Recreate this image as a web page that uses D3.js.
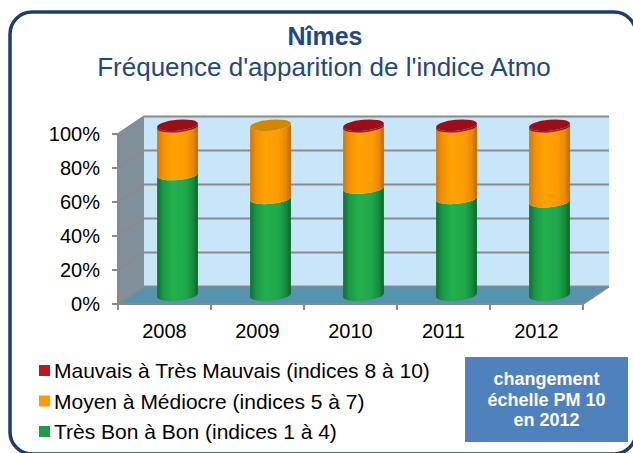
<!DOCTYPE html>
<html>
<head>
<meta charset="utf-8">
<script src="https://cdn.jsdelivr.net/npm/d3@7"></script>
<style>
  body { margin: 0; background: #fff; }
  svg { display: block; font-family: "Liberation Sans", Arial, sans-serif; }
</style>
</head>
<body>
<script>
// Nîmes - fréquence d'apparition de l'indice Atmo (en %)
const years = ["2008", "2009", "2010", "2011", "2012"];
const tresBon = [71, 57, 63, 57, 55];   // indices 1 à 4
const moyen = [28, 43, 36, 42, 44];     // indices 5 à 7
const mauvais = [1, 0, 1, 1, 1];        // indices 8 à 10
const yTicks = [0, 20, 40, 60, 80, 100];
const seriesNames = ["Très Bon à Bon (indices 1 à 4)", "Moyen à Médiocre (indices 5 à 7)", "Mauvais à Très Mauvais (indices 8 à 10)"];

const w = 633, h = 453;
const depthX = 26, depthY = -17.5;   // décalage 3D

const svg = d3.select("body").append("svg")
    .attr("width", w)
    .attr("height", h);

// cadre arrondi
svg.append("rect")
    .attr("x", 10).attr("y", 12)
    .attr("width", 626).attr("height", 442)
    .attr("rx", 22)
    .attr("fill", "#fff")
    .attr("stroke", "#1f3d66")
    .attr("stroke-width", 3.5);

// titres
svg.append("text")
    .attr("x", 325).attr("y", 45)
    .attr("text-anchor", "middle")
    .attr("font-size", "25px")
    .attr("font-weight", "bold")
    .attr("fill", "#1f497d")
    .text("Nîmes");
svg.append("text")
    .attr("x", 324).attr("y", 76)
    .attr("text-anchor", "middle")
    .attr("font-size", "26px")
    .attr("fill", "#1f497d")
    .text("Fréquence d'apparition de l'indice Atmo");

const x = d3.scaleBand().domain(years).range([118, 583]);
const y = d3.scaleLinear().domain([0, 100]).range([304, 134]);

const x0 = x.range()[0], x1 = x.range()[1];

// murs
svg.append("polygon")  // mur du fond
    .attr("points", [[x0 + depthX, y(100) + depthY], [x1 + depthX, y(100) + depthY],
                     [x1 + depthX, y(0) + depthY], [x0 + depthX, y(0) + depthY]].join(" "))
    .attr("fill", "#c8e6f9");
svg.append("polygon")  // mur de gauche
    .attr("points", [[x0, y(100)], [x0 + depthX, y(100) + depthY],
                     [x0 + depthX, y(0) + depthY], [x0, y(0)]].join(" "))
    .attr("fill", "#7f909b");
svg.append("polygon")  // sol
    .attr("points", [[x0, y(0)], [x0 + depthX, y(0) + depthY],
                     [x1 + depthX, y(0) + depthY], [x1, y(0)]].join(" "))
    .attr("fill", "#5593ae");

// quadrillage
const grid = svg.append("g").attr("stroke", "#8a8a8a").attr("stroke-width", 2).attr("fill", "none");
grid.selectAll("path")
    .data(yTicks)
    .enter()
    .append("path")
    .attr("d", function (d) {
        return "M" + x0 + "," + y(d) + "L" + (x0 + depthX) + "," + (y(d) + depthY) +
               "L" + (x1 + depthX) + "," + (y(d) + depthY);
    });
grid.append("path")
    .attr("d", "M" + x1 + "," + y(0) + "L" + (x1 + depthX) + "," + (y(0) + depthY));

// axes
const axes = svg.append("g").attr("stroke", "#8a8a8a").attr("stroke-width", 2).attr("fill", "none");
axes.append("path").attr("d", "M" + x0 + "," + y(100) + "V" + y(0) + "H" + x1);
axes.selectAll(".yt")
    .data(yTicks)
    .enter()
    .append("path")
    .attr("d", function (d) { return "M" + (x0 - 6) + "," + y(d) + "H" + x0; });
axes.selectAll(".xt")
    .data(years.map(function (d) { return x(d); }).concat([x1]))
    .enter()
    .append("path")
    .attr("d", function (d) { return "M" + d + "," + y(0) + "V" + (y(0) + 6); });

svg.selectAll(".ylab")
    .data(yTicks)
    .enter()
    .append("text")
    .attr("x", 100)
    .attr("y", function (d) { return y(d); })
    .attr("dy", "0.36em")
    .attr("text-anchor", "end")
    .attr("font-size", "20px")
    .attr("fill", "#000")
    .text(function (d) { return d + "%"; });

svg.selectAll(".xlab")
    .data(years)
    .enter()
    .append("text")
    .attr("x", function (d) { return x(d) + x.bandwidth() / 2; })
    .attr("y", 338)
    .attr("text-anchor", "middle")
    .attr("font-size", "20px")
    .attr("fill", "#000")
    .text(function (d) { return d; });

// dégradés des cylindres
const defs = svg.append("defs");
const shades = {
    green: ["#0e7030", "#189a43", "#22b04e", "#1fa84a", "#168c3d", "#0c6329"],
    orange: ["#d27800", "#f39200", "#ffa300", "#fd9c00", "#e88900", "#b86800"],
    red: ["#8c0c12", "#b3131b", "#c4161e", "#bd141c", "#a01018", "#7e0a10"]
};
Object.keys(shades).forEach(function (k) {
    const g = defs.append("linearGradient").attr("id", "grad-" + k)
        .attr("x1", "0").attr("x2", "1").attr("y1", "0").attr("y2", "0");
    [0, 0.15, 0.38, 0.7, 0.88, 1].forEach(function (o, i) {
        g.append("stop").attr("offset", o).attr("stop-color", shades[k][i]);
    });
});
const topColor = { green: "#178a3b", orange: "#d58600", red: "#9a0f17" };

const table = years.map(function (d, i) {
    return { year: d, green: tresBon[i], orange: moyen[i], red: mauvais[i] };
});
const keys = ["green", "orange", "red"];
const stack = d3.stack().keys(keys)(table);

const rx = x.bandwidth() * 0.22, ry = 5.5;
const tilt = 5;   // inclinaison des ellipses (degrés)
const t = rx * Math.sin(tilt * Math.PI / 180);
const rxc = rx * Math.cos(tilt * Math.PI / 180);

function cx(d) { return x(d) + x.bandwidth() / 2 + depthX / 2; }
function cy(v) { return y(v) + depthY / 2; }

function body(c, v0, v1) {
    const ya = cy(v0), yb = cy(v1);
    return "M" + (c - rxc) + "," + (yb + t) +
        "L" + (c - rxc) + "," + (ya + t) +
        "A" + rx + "," + ry + "," + (-tilt) + ",0,0," + (c + rxc) + "," + (ya - t) +
        "L" + (c + rxc) + "," + (yb - t) +
        "A" + rx + "," + ry + "," + (-tilt) + ",0,1," + (c - rxc) + "," + (yb + t) + "Z";
}

const bars = svg.append("g");
stack.forEach(function (s) {
    bars.selectAll(".seg-" + s.key)
        .data(s.filter(function (d) { return d[1] - d[0] > 0; }))
        .enter()
        .append("path")
        .attr("d", function (d) { return body(cx(d.data.year), d[0], d[1]); })
        .attr("fill", "url(#grad-" + s.key + ")");
});

// dessus des cylindres : couleur de la série la plus haute
bars.selectAll(".top")
    .data(table)
    .enter()
    .append("ellipse")
    .attr("cx", function (d) { return cx(d.year); })
    .attr("cy", function (d) { return cy(d.green + d.orange + d.red); })
    .attr("rx", rx)
    .attr("ry", ry)
    .attr("transform", function (d) {
        return "rotate(" + (-tilt) + "," + cx(d.year) + "," + cy(d.green + d.orange + d.red) + ")";
    })
    .attr("fill", function (d) {
        return d.red > 0 ? topColor.red : (d.orange > 0 ? topColor.orange : topColor.green);
    });

// légende
const legendKeys = ["red", "orange", "green"];
const legendColor = { red: "#c0161f", orange: "#ff9a00", green: "#1e9e44" };
const legendText = { red: seriesNames[2], orange: seriesNames[1], green: seriesNames[0] };
const legend = svg.selectAll(".leg")
    .data(legendKeys)
    .enter()
    .append("g")
    .attr("transform", function (d, i) { return "translate(39," + (370.5 + i * 30.5) + ")"; });
legend.append("rect")
    .attr("x", 0).attr("y", -5.5)
    .attr("width", 11).attr("height", 11)
    .attr("fill", function (d) { return legendColor[d]; });
legend.append("text")
    .attr("x", 15).attr("y", 0)
    .attr("dy", "0.36em")
    .attr("font-size", "21px")
    .attr("fill", "#000")
    .text(function (d) { return legendText[d]; });

// encadré
svg.append("rect")
    .attr("x", 465).attr("y", 357)
    .attr("width", 163).attr("height", 85)
    .attr("fill", "#4f81bd");
svg.append("text")
    .attr("x", 546.5).attr("y", 385)
    .attr("text-anchor", "middle")
    .attr("font-size", "18px")
    .attr("font-weight", "bold")
    .attr("fill", "#fff")
    .selectAll("tspan")
    .data(["changement", "échelle PM 10", "en 2012"])
    .enter()
    .append("tspan")
    .attr("x", 546.5)
    .attr("dy", function (d, i) { return i === 0 ? 0 : 20.5; })
    .text(function (d) { return d; });
</script>
</body>
</html>
